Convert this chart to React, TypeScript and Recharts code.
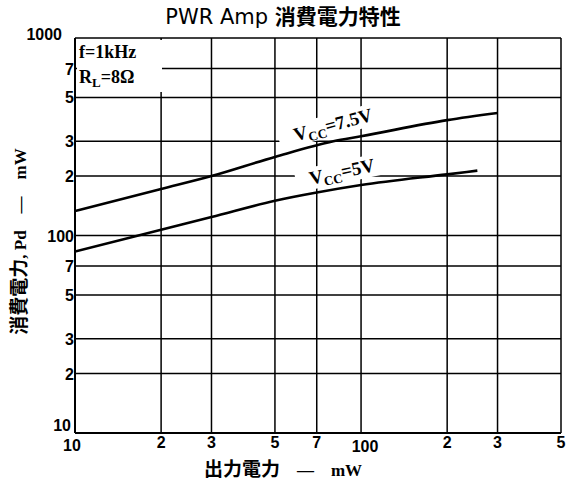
import React from 'react';
import { LineChart, Line, XAxis, YAxis, CartesianGrid } from 'recharts';

const xTicks = [10, 20, 30, 50, 70, 100, 200, 300, 500];
const xTickLabels = ['10', '2', '3', '5', '7', '100', '2', '3', '5'];
const yTicks = [10, 20, 30, 50, 70, 100, 200, 300, 500, 700, 1000];
const yTickLabels = ['10', '2', '3', '5', '7', '100', '2', '3', '5', '7', '1000'];

const outputPower75 = [10, 20, 30, 50, 80, 100, 200, 300];
const dissipation75 = [133, 172, 200, 250, 300, 318, 384, 417];
const outputPower5 = [10, 20, 30, 50, 70, 100, 200, 255];
const dissipation5 = [83, 107, 124, 150, 165, 180, 204, 213];

const series75 = outputPower75.map((x, i) => ({ x, y: dissipation75[i] }));
const series5 = outputPower5.map((x, i) => ({ x, y: dissipation5[i] }));

const tickFont = "'Liberation Sans Narrow', 'Liberation Sans', Arial, sans-serif";
const serifFont = "'Liberation Serif', 'DejaVu Serif', serif";
const cjkFont = "'Noto Sans CJK JP', 'Noto Sans', sans-serif";

const YTick = (props: any) => {
  const { x, y, payload } = props;
  const i = yTicks.indexOf(payload.value);
  const label = yTickLabels[i] ?? '';
  let dx = -1;
  let dy = 6;
  if (payload.value === 1000) { dx = -13; dy = 2; }
  if (payload.value === 10) { dx = -4; dy = -2; }
  return (
    <text x={x + dx} y={y + dy} textAnchor="end" fontSize={16} fontWeight="bold" fontFamily={tickFont} fill="#000">
      {label}
    </text>
  );
};

const XTick = (props: any) => {
  const { x, y, payload } = props;
  const i = xTicks.indexOf(payload.value);
  const label = xTickLabels[i] ?? '';
  let dx = 0;
  let dy = 15;
  if (payload.value === 10) { dx = -3; dy = 18; }
  if (payload.value === 100) { dx = 4; dy = 19; }
  return (
    <text x={x + dx} y={y + dy} textAnchor="middle" fontSize={16} fontWeight="bold" fontFamily={tickFont} fill="#000">
      {label}
    </text>
  );
};

const sub = { fontSize: 13, verticalAlign: '-4px', lineHeight: 0 } as const;
const latin = { fontFamily: serifFont, fontWeight: 700, fontSize: 17 } as const;

export default function App() {
  return (
    <div style={{ position: 'absolute', left: 0, top: 0, width: 566, height: 491, background: '#fff' }}>
      <LineChart
        width={566}
        height={491}
        margin={{ top: 38, right: 5, bottom: 28, left: 45 }}
      >
        <CartesianGrid stroke="#000" strokeWidth={1.5} />
        <XAxis
          type="number"
          dataKey="x"
          scale="log"
          domain={[10, 500]}
          ticks={xTicks}
          allowDataOverflow
          height={30}
          tickSize={0}
          tickMargin={0}
          tick={<XTick />}
          axisLine={{ stroke: '#000', strokeWidth: 2 }}
          tickLine={false}
          interval={0}
        />
        <YAxis
          type="number"
          dataKey="y"
          scale="log"
          domain={[10, 1000]}
          ticks={yTicks}
          allowDataOverflow
          width={30}
          tickSize={0}
          tickMargin={0}
          tick={<YTick />}
          axisLine={{ stroke: '#000', strokeWidth: 2 }}
          tickLine={false}
          interval={0}
        />
        <Line data={series75} dataKey="y" stroke="#000" strokeWidth={2.6} dot={false} isAnimationActive={false} type="monotone" />
        <Line data={series5} dataKey="y" stroke="#000" strokeWidth={2.6} dot={false} isAnimationActive={false} type="monotone" />
      </LineChart>

      <div style={{ position: 'absolute', left: 0, top: 2, width: 566, textAlign: 'center', fontSize: 21, lineHeight: '26px', color: '#000', whiteSpace: 'nowrap' }}>
        <span style={{ fontFamily: "'DejaVu Sans', 'Liberation Sans', sans-serif", fontWeight: 400 }}>PWR Amp </span>
        <span style={{ fontFamily: cjkFont, fontWeight: 700 }}>消費電力特性</span>
      </div>

      <div style={{ position: 'absolute', left: 77, top: 40, width: 83, height: 52, background: '#fff', fontFamily: serifFont, fontWeight: 700, fontSize: 18, lineHeight: '25px', color: '#000', paddingLeft: 2 }}>
        <div>f=1kHz</div>
        <div>R<sub style={sub}>L</sub>=8Ω</div>
      </div>

      <div style={{ position: 'absolute', left: 277, top: 114, width: 112, height: 22, background: '#fff', transform: 'rotate(-15deg)', transformOrigin: 'center', fontFamily: serifFont, fontWeight: 700, fontSize: 19, lineHeight: '22px', color: '#000', whiteSpace: 'nowrap', textAlign: 'center' }}>
        V<sub style={sub}>CC</sub>=7.5V
      </div>

      <div style={{ position: 'absolute', left: 295, top: 161, width: 94, height: 22, background: '#fff', transform: 'rotate(-12deg)', transformOrigin: 'center', fontFamily: serifFont, fontWeight: 700, fontSize: 19, lineHeight: '22px', color: '#000', whiteSpace: 'nowrap', textAlign: 'center' }}>
        V<sub style={sub}>CC</sub>=5V
      </div>

      <div style={{ position: 'absolute', left: 19, top: 240, width: 0, height: 0 }}>
        <div style={{ position: 'absolute', left: -140, top: -12, width: 280, textAlign: 'center', transform: 'rotate(-90deg)', fontFamily: cjkFont, fontWeight: 700, fontSize: 19, lineHeight: '24px', color: '#000', whiteSpace: 'nowrap' }}>
          消費電力<span style={latin}>, Pd　—　mW</span>
        </div>
      </div>

      <div style={{ position: 'absolute', left: 0, top: 456, width: 566, textAlign: 'center', fontFamily: cjkFont, fontWeight: 700, fontSize: 19, lineHeight: '24px', color: '#000', whiteSpace: 'nowrap' }}>
        出力電力<span style={latin}>　—　mW</span>
      </div>
    </div>
  );
}
